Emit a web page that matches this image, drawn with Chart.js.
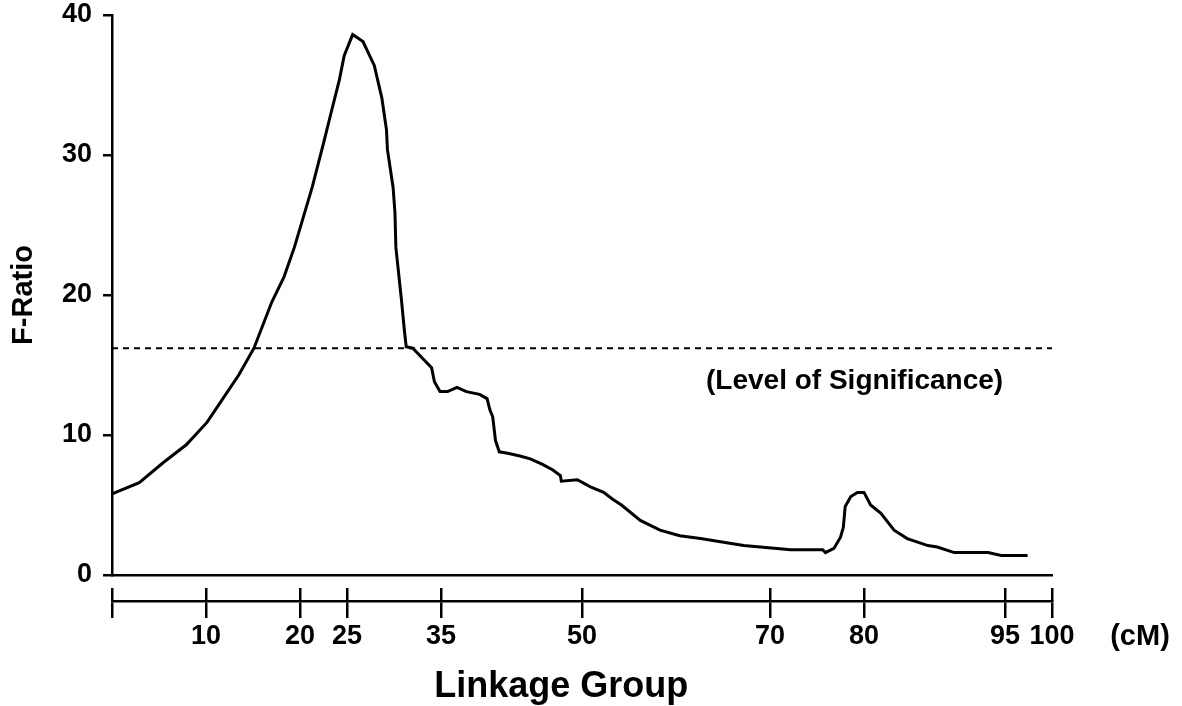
<!DOCTYPE html>
<html>
<head>
<meta charset="utf-8">
<script src="https://cdn.jsdelivr.net/npm/chart.js@4.4.1/dist/chart.umd.min.js"></script>
<style>
  html, body { margin: 0; padding: 0; background: #ffffff; }
  #wrap { width: 1182px; height: 706px; }
</style>
</head>
<body>
<div id="wrap"><canvas id="c" width="1182" height="706"></canvas></div>
<script>
// ---- data ----
const positionsCM = [
  0, 2.9, 5.4, 7.9, 10.1, 11.6, 13.5, 15.1, 17.0, 18.3, 19.4, 21.3, 22.6, 23.3, 24.2, 24.7,
  25.6, 26.7, 27.9, 28.7, 29.2, 29.3, 29.9, 30.1, 30.2, 30.5, 30.8, 31.1, 31.3, 32.0, 33.0,
  34.0, 34.3, 34.9, 35.7, 36.7, 37.7, 39.1, 39.9, 40.2, 40.5, 40.8, 41.2, 42.1, 43.4, 44.5,
  45.8, 46.9, 47.7, 47.8, 49.5, 50.9, 52.3, 53.3, 54.2, 56.2, 58.3, 60.4, 62.6, 67.2, 72.2,
  75.6, 75.9, 76.8, 77.5, 77.8, 78.0, 78.6, 79.3, 80.0, 80.7, 81.8, 83.2, 84.6, 86.8, 87.8,
  89.6, 93.2, 94.6, 97.4
];
const fRatio = [
  5.8, 6.6, 8.0, 9.3, 10.9, 12.4, 14.3, 16.2, 19.5, 21.3, 23.4, 27.7, 31.1, 33.0, 35.4, 37.1,
  38.6, 38.1, 36.4, 34.1, 31.8, 30.4, 27.7, 25.9, 23.4, 21.5, 19.6, 17.5, 16.3, 16.2, 15.5,
  14.8, 13.8, 13.1, 13.1, 13.4, 13.1, 12.9, 12.6, 11.8, 11.3, 9.6, 8.8, 8.7, 8.5, 8.3,
  7.9, 7.5, 7.1, 6.7, 6.8, 6.3, 5.9, 5.4, 5.0, 3.9, 3.2, 2.8, 2.6, 2.1, 1.8,
  1.8, 1.6, 1.9, 2.7, 3.4, 4.9, 5.6, 5.9, 5.9, 5.0, 4.4, 3.2, 2.6, 2.1, 2.0,
  1.6, 1.6, 1.4, 1.4
];
const significanceLevel = 16.2;
const markerTicksCM = [0, 10, 20, 25, 35, 50, 70, 80, 95, 100];
const yTicks = [0, 10, 20, 30, 40];
const yTitle = 'F-Ratio';
const xTitle = 'Linkage Group';
const unitLabel = '(cM)';
const sigLabel = '(Level of Significance)';

// ---- chart ----
const FONT = '"Liberation Sans", Arial, Helvetica, sans-serif';
Chart.defaults.font.family = FONT;
Chart.defaults.font.weight = 'bold';
Chart.defaults.color = '#000';

const curve = positionsCM.map((x, i) => ({ x: x, y: fRatio[i] }));
const sigLine = [
  { x: markerTicksCM[0], y: significanceLevel },
  { x: markerTicksCM[markerTicksCM.length - 1], y: significanceLevel }
];

const textPlugin = {
  id: 'texts',
  afterDraw(chart) {
    const { ctx, scales } = chart;
    const x = scales.x, y = scales.y, xm = scales.xMap;
    ctx.save();
    ctx.fillStyle = '#000';
    ctx.textAlign = 'center';
    ctx.textBaseline = 'middle';
    ctx.font = 'bold 28px ' + FONT;
    ctx.fillText(sigLabel, x.getPixelForValue(79.0), y.getPixelForValue(13.85));
    ctx.font = 'bold 29px ' + FONT;
    ctx.fillText(unitLabel, xm.right + 88, xm.top + 36);
    ctx.font = 'bold 36px ' + FONT;
    ctx.textBaseline = 'alphabetic';
    ctx.fillText(xTitle, xm.getPixelForValue(47.8), 697);
    ctx.restore();
  }
};

const noPad = (s) => { s.paddingTop = 0; s.paddingBottom = 0; s.paddingLeft = 0; s.paddingRight = 0; };
const markerTicks = (s) => { s.ticks = markerTicksCM.map(v => ({ value: v })); };

new Chart(document.getElementById('c'), {
  type: 'line',
  data: {
    datasets: [
      {
        data: curve,
        borderColor: '#000',
        borderWidth: 3,
        pointRadius: 0,
        tension: 0,
        fill: false,
        order: 0
      },
      {
        data: sigLine,
        borderColor: '#000',
        borderWidth: 2,
        borderDash: [6, 5],
        pointRadius: 0,
        fill: false,
        order: 1
      }
    ]
  },
  options: {
    responsive: false,
    animation: false,
    devicePixelRatio: 1,
    layout: { padding: { top: 15, left: 0, right: 130, bottom: 0 } },
    plugins: { legend: { display: false }, tooltip: { enabled: false } },
    scales: {
      x: {
        type: 'linear', position: 'bottom', weight: 0,
        min: 0, max: 100,
        grid: { display: false },
        ticks: { display: false },
        border: { display: true, color: '#000', width: 2.5 },
        afterFit: (s) => { s.height = 13; noPad(s); }
      },
      xTop: {
        type: 'linear', position: 'bottom', weight: 1,
        min: 0, max: 100,
        afterBuildTicks: markerTicks,
        grid: { display: true, drawOnChartArea: false, drawTicks: true, tickLength: 13, color: '#000', lineWidth: 2.5 },
        ticks: { display: false },
        border: { display: false },
        afterFit: (s) => { s.height = 13; noPad(s); }
      },
      xMap: {
        type: 'linear', position: 'bottom', weight: 2,
        min: 0, max: 100,
        afterBuildTicks: markerTicks,
        grid: { display: true, drawOnChartArea: false, drawTicks: true, tickLength: 17, color: '#000', lineWidth: 2.5 },
        ticks: {
          autoSkip: false, maxRotation: 0, padding: 2,
          font: { size: 27, weight: 'bold' }, color: '#000',
          callback: (v) => (v === 0 ? '' : String(v))
        },
        border: { display: true, color: '#000', width: 2.5 },
        afterFit: (s) => { s.height = 105; noPad(s); }
      },
      y: {
        type: 'linear', position: 'left',
        min: 0, max: 40,
        afterBuildTicks: (s) => { s.ticks = yTicks.map(v => ({ value: v })); },
        grid: { display: true, drawOnChartArea: false, drawTicks: true, tickLength: 9, color: '#000', lineWidth: 2.5 },
        ticks: { padding: 11, font: { size: 27, weight: 'bold' }, color: '#000' },
        border: { display: true, color: '#000', width: 2.5 },
        title: { display: true, text: yTitle, font: { size: 29, weight: 'bold' }, color: '#000', padding: { top: 7, bottom: 0 } },
        afterFit: (s) => { s.width = 112; noPad(s); }
      }
    }
  },
  plugins: [textPlugin]
});
</script>
</body>
</html>
